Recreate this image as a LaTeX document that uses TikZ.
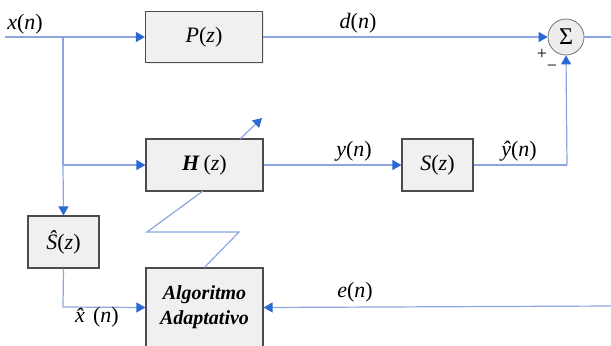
\documentclass[tikz,border=0pt]{standalone}
\usepackage{fontspec}
\setmainfont{Liberation Serif}
\usetikzlibrary{arrows.meta,shadows}
\definecolor{wireblue}{RGB}{140,165,225}
\definecolor{tipblue}{RGB}{45,105,210}

\begin{document}
\begin{tikzpicture}[x=0.5pt,y=-0.5pt,font=\fontsize{11}{13}\selectfont]
    \tikzstyle{block} = [draw=black!70, fill=black!6, line width=0.6pt, inner sep=0pt,
                         drop shadow={opacity=0.15, shadow xshift=0.5pt, shadow yshift=-0.5pt}]
    \tikzstyle{wire} = [draw=wireblue, line width=0.6pt]
    \tikzstyle{arrow} = [wire, -{Triangle[length=4.5pt,width=5pt,color=tipblue]}]
    \useasboundingbox (0,0) rectangle (611,345);

    % Primary path
    \node [block, minimum width=58.5pt, minimum height=25.5pt] (P) at (204,37) {\textit{P}(\textit{z})};
    \node [draw=black!55, fill=black!7, circle, minimum size=18pt, inner sep=0pt,
           font=\fontsize{12}{13}\selectfont] (Sum) at (566,37) {Σ};

    % Adaptive filter and secondary path
    \node [block, minimum width=58.5pt, minimum height=26pt] (H) at (204.5,165) {\textbf{\textit{H}}\,(\textit{z})};
    \node [block, minimum width=35.5pt, minimum height=26pt] (S) at (437.5,165) {\textit{S}(\textit{z})};

    % Secondary path estimate
    \node [block, minimum width=35.5pt, minimum height=26pt] (Shat) at (63.5,242) {\textit{Ŝ}(\textit{z})};

    % Adaptive algorithm (cut by the bottom edge)
    \node [block, minimum width=58.5pt, minimum height=39.5pt, align=center,
           font=\fontsize{10}{12.5}\selectfont\bfseries\itshape] (Alg) at (204.5,307.5) {Algoritmo\\Adaptativo};

    % Junctions and free ends
    \coordinate (In) at (5,37);
    \coordinate (Split) at (63,37);
    \coordinate (SplitH) at (63,165);
    \coordinate (Out) at (611,37);
    \coordinate (Corner) at (567,165);
    \coordinate (Err) at (611,306);
    \coordinate (XCorner) at (63,307);

    \draw [wire] (In) -- (Split);
    \draw [arrow] (Split) -- (P.west);
    \draw [arrow] (P.east) -- (Sum.west);
    \draw [wire] (Sum.east) -- (Out);
    \draw [wire] (Split) -- (SplitH);
    \draw [arrow] (SplitH) -- (Shat.north);
    \draw [arrow] (SplitH) -- (H.west);
    \draw [arrow] (H.east) -- (S.west);
    \draw [wire] (S.east) -- (Corner);
    \draw [arrow] (Corner) -- (Sum.south);
    \draw [wire] (Shat.south) -- (XCorner);
    \draw [arrow] (XCorner) -- (Alg.west);
    \draw [arrow] (Err) -- (Alg.east);

    % Weight update zigzag
    \coordinate (Z1) at (239,232);
    \coordinate (Z2) at (147,232);
    \coordinate (Z3) at (203,191);
    \coordinate (Z4) at (240,139);
    \coordinate (Z5) at (262,118);
    \draw [wire] (Alg.north) -- (Z1) -- (Z2) -- (Z3);
    \draw [arrow] (Z4) -- (Z5);

    % Signal labels
    \node (xLab) at (25,24) {\textit{x}(\textit{n})};
    \node (dLab) at (358,23) {\textit{d}(\textit{n})};
    \node (yLab) at (354,151) {\textit{y}(\textit{n})};
    \node (yhatLab) at (519,151) {\textit{ŷ}(\textit{n})};
    \node (eLab) at (355,292) {\textit{e}(\textit{n})};
    \node (xhatLab) at (97,317) {\textit{x̂}(\textit{n})};
    \node [font=\fontsize{9}{10}\selectfont] (Plus) at (542,54) {+};
    \node [font=\fontsize{9}{10}\selectfont] (Minus) at (552,68) {−};
\end{tikzpicture}
\end{document}
